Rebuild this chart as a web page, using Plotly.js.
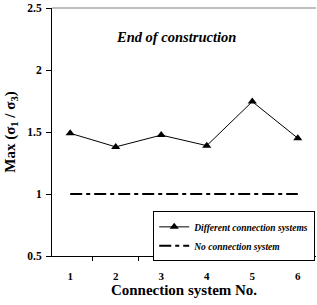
<!DOCTYPE html>
<html><head><meta charset="utf-8">
<script src="https://cdn.plot.ly/plotly-3.0.1.min.js"></script>
<style>html,body{margin:0;padding:0;background:#fff}#c{width:317px;height:305px}</style>
</head><body><div id="c"></div>
<script>
const categories = ["1","2","3","4","5","6"];
const differentSystems = [1.49, 1.38, 1.475, 1.39, 1.745, 1.45];
const noSystem = [1, 1, 1, 1, 1, 1];
const yTicks = [0.5, 1, 1.5, 2, 2.5];
const yTickText = ["0.5", "1", "1.5", "2", "2.5"];

const F = "Liberation Serif";
const traces = [
  {x: categories, y: differentSystems, name: "Different connection systems", type: "scatter", mode: "lines+markers",
   line: {color: "#000", width: 1}, marker: {symbol: "triangle-up", size: 8, color: "#000"}},
  {x: categories, y: noSystem, name: "No connection system", type: "scatter", mode: "lines",
   line: {color: "#000", width: 2, dash: "12px,4px,4px,4px"}}
];
const layout = {
  width: 317, height: 305,
  margin: {l: 52, r: 1, t: 8, b: 49, autoexpand: false},
  paper_bgcolor: "#fff", plot_bgcolor: "#fff",
  font: {family: F, color: "#000"},
  showlegend: true,
  legend: {x: 0.997, y: 0.18, xanchor: "right", yanchor: "top", bordercolor: "#000", borderwidth: 1,
    font: {family: F, size: 9.5, color: "#000", weight: "bold", style: "italic"}, bgcolor: "#fff",
    tracegroupgap: 0, itemwidth: 30},
  xaxis: {type: "category", tickson: "boundaries", ticks: "outside", ticklen: 4, tickcolor: "#000", automargin: false,
    showline: true, linecolor: "#000", linewidth: 1, showgrid: false, zeroline: false, ticklabelstandoff: 10,
    tickfont: {family: F, size: 11, color: "#000", weight: "bold"},
    title: {text: "Connection system No.", font: {family: F, size: 15, color: "#000", weight: "bold"}, standoff: 2}},
  yaxis: {range: [0.5, 2.5], tickvals: yTicks, ticktext: yTickText, ticks: "outside", ticklen: 5, tickcolor: "#000", automargin: false,
    showline: true, linecolor: "#000", linewidth: 1, showgrid: false, zeroline: false, ticklabelstandoff: 2,
    tickfont: {family: F, size: 11.5, color: "#000", weight: "bold"},
    title: {text: "Max (σ<sub>1</sub> / σ<sub>3</sub>)", font: {family: F, size: 15, color: "#000", weight: "bold"}, standoff: 8}},
  shapes: [{type: "line", xref: "paper", yref: "paper", x0: 0, x1: 1, y0: 1, y1: 1, line: {color: "#808080", width: 1}}],
  annotations: [{text: "End of construction", xref: "paper", yref: "paper", x: 0.47, y: 0.925, showarrow: false,
    font: {family: F, size: 14.5, color: "#000", weight: "bold", style: "italic"}}]
};
Plotly.newPlot("c", traces, layout, {displayModeBar: false, staticPlot: true});
</script></body></html>
